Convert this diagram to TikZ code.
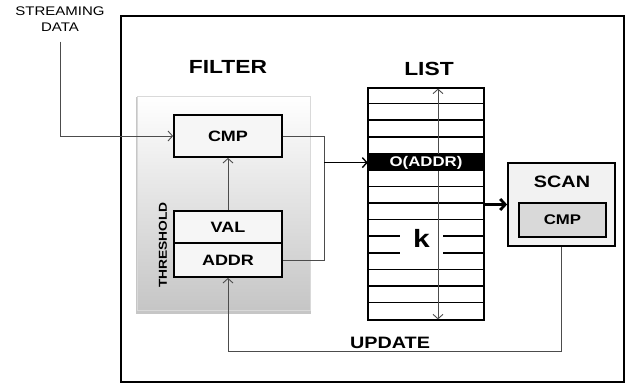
\documentclass[tikz,border=0pt]{standalone}
\usepackage{fontspec}
\setmainfont[FakeStretch=1.2]{Liberation Sans}
\usetikzlibrary{arrows.meta,shadows}

\begin{document}
\begin{tikzpicture}[
    x=1pt, y=-1pt,
    every node/.style={inner sep=0pt},
    wire/.style={draw=black!70, line width=0.9pt},
    flow/.style={wire, -{Straight Barb[length=4.5pt,width=10pt]}},
    title/.style={font=\fontsize{19}{20}\selectfont\bfseries},
    label/.style={font=\fontsize{16.5}{17}\selectfont\bfseries},
    regbox/.style={draw, line width=1.8pt, fill=gray!7, minimum width=108pt, font=\fontsize{15}{16}\selectfont\bfseries},
    filterbox/.style={shade, top color=white, bottom color=gray!45, draw=gray!30, drop shadow={opacity=0.45, shadow xshift=0pt, shadow yshift=-2.5pt, shadow scale=1.01}},
    rowline/.style={line width=1.6pt}
]
\useasboundingbox (0,0) rectangle (629,386);
\node[draw, line width=2pt, minimum width=503pt, minimum height=366pt] (frame) at (372.5,199) {};
\node[font=\fontsize{12.5}{16}\selectfont, align=center] (stream) at (60,19) {STREAMING\\DATA};

\node[title] (filtertitle) at (228,67) {FILTER};
\node[filterbox, minimum width=173pt, minimum height=214pt] (filter) at (223.5,203) {};
\node[regbox, minimum height=42pt] (cmp) at (228,136) {CMP};
\node[regbox, minimum height=32pt] (val) at (228,227) {VAL};
\node[regbox, minimum height=34pt] (addr) at (228,260) {ADDR};
\node[rotate=90, font=\fontsize{11.5}{12}\selectfont\bfseries] (threshold) at (163,245) {THRESHOLD};

\node[title] (listtitle) at (429,69) {LIST};
\node[draw, line width=1.8pt, minimum width=116pt, minimum height=232pt] (list) at (426,204) {};
\foreach \i in {1,...,13}
    \draw[rowline] ([yshift=-\i*16.571pt]list.north west) -- ([yshift=-\i*16.571pt]list.north east);
\node[fill=white, font=\fontsize{25}{25}\selectfont\bfseries, minimum width=43pt, minimum height=34pt, text depth=10pt] (k) at (421.5,243) {k};
\draw[wire, {Straight Barb[length=4.5pt,width=10pt]}-{Straight Barb[length=4.5pt,width=10pt]}, shorten <=1.5pt, shorten >=1.5pt] ([xshift=12pt]list.north) -- ([xshift=12pt]list.south);
\node[fill=black, text=white, font=\fontsize{14}{15}\selectfont\bfseries, minimum width=116pt, minimum height=16.6pt] (oaddr) at (426,162.6) {O(ADDR)};

\node[draw, line width=1.8pt, fill=gray!10, minimum width=107pt, minimum height=83pt] (scan) at (561.5,204.5) {};
\node[label] (scantitle) at (562,182) {SCAN};
\node[draw, line width=1.8pt, fill=gray!30, minimum width=87pt, minimum height=34pt, font=\fontsize{14}{15}\selectfont\bfseries] (scancmp) at (562.5,220) {CMP};

\coordinate (join) at (324,162.6);
\draw[flow] ([yshift=-10pt]stream.south) |- (cmp.west);
\draw[flow] (val.north) -- (cmp.south);
\draw[wire] (cmp.east) -| (join);
\draw[wire] (addr.east) -| (join);
\draw[flow, draw=black, line width=1.4pt] (join) -- (oaddr.west);
\draw[line width=2.8pt, -{Straight Barb[length=5pt,width=11pt]}] (list.east |- scan.west) -- (scan.west);
\draw[flow] (scan.south) -- ++(0,105) -| (addr.south);
\node[label] (update) at (390,343) {UPDATE};
\end{tikzpicture}
\end{document}
